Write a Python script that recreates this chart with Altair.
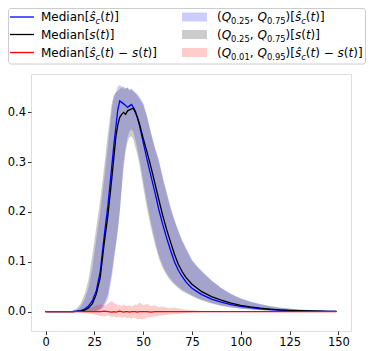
import altair as alt
import pandas as pd

# ---------------- data ----------------
t = [0, 4, 8, 12,
     14, 16, 18, 20, 22, 24, 26, 28, 30, 32, 34,
     35, 36, 37, 38, 39, 40, 41, 42, 43, 44, 45, 46, 47, 48,
     50, 52, 54, 56, 58, 60, 62, 64, 66, 68, 70, 72,
     75, 78, 80,
     85, 90, 95, 100, 105, 110, 115, 120, 125, 130, 135, 140, 145, 149]

med_s_hat = [0, 0, 0, 0,
             0.0002, 0.0007, 0.002, 0.005, 0.011, 0.022, 0.042, 0.08, 0.15, 0.215, 0.295,
             0.335, 0.37, 0.405, 0.423, 0.42, 0.417, 0.414, 0.41, 0.413, 0.416, 0.41, 0.402, 0.39, 0.376,
             0.34, 0.305, 0.272, 0.24, 0.205, 0.175, 0.148, 0.123, 0.10, 0.083, 0.07, 0.059,
             0.047, 0.039, 0.034,
             0.025, 0.019, 0.014, 0.0105, 0.0078, 0.0057, 0.0042, 0.003, 0.0021, 0.0015, 0.001, 0.0007, 0.0005, 0.0003]

med_s = [0, 0, 0, 0,
         0.0001, 0.0005, 0.001, 0.003, 0.007, 0.016, 0.035, 0.068, 0.136, 0.195, 0.27,
         0.31, 0.35, 0.375, 0.39, 0.396, 0.40, 0.396, 0.403, 0.405, 0.407, 0.408, 0.40, 0.39, 0.378,
         0.348, 0.32, 0.29, 0.258, 0.225, 0.193, 0.165, 0.14, 0.115, 0.095, 0.08, 0.068,
         0.055, 0.046, 0.04,
         0.03, 0.023, 0.017, 0.0125, 0.0095, 0.007, 0.005, 0.0035, 0.0025, 0.0017, 0.0012, 0.0008, 0.0005, 0.0004]

med_diff = [0, 0, 0, 0,
            0, 0, 0, 0, 0, 0, 0, 0, 0.001, 0, -0.001,
            0, -0.001, 0, 0.001, 0, -0.001, 0, 0, -0.001, 0, 0, 0, -0.001, 0,
            0, 0, -0.001, 0, 0, 0, 0, 0, 0, 0, 0, 0,
            0, 0, 0,
            0, 0, 0, 0, 0, 0, 0, 0, 0, 0, 0, 0, 0, 0]

q75_s_hat = [0, 0, 0, 0.0005,
             0.001, 0.003, 0.01, 0.024, 0.048, 0.088, 0.145, 0.2, 0.265, 0.335, 0.41,
             0.43, 0.44, 0.452, 0.455, 0.452, 0.447, 0.448, 0.45, 0.446, 0.448, 0.444, 0.44, 0.437, 0.432,
             0.42, 0.392, 0.36, 0.33, 0.305, 0.27, 0.24, 0.21, 0.185, 0.163, 0.143, 0.127,
             0.104, 0.09, 0.082,
             0.063, 0.048, 0.036, 0.027, 0.02, 0.015, 0.011, 0.008, 0.006, 0.0043, 0.0031, 0.0022, 0.0016, 0.0012]

q25_s_hat = [0, 0, 0, 0,
             0, 0, 0, 0, 0, 0, 0.0005, 0.003, 0.01, 0.026, 0.07,
             0.10, 0.13, 0.16, 0.2, 0.25, 0.30, 0.33, 0.35, 0.362, 0.366, 0.36, 0.345, 0.328, 0.308,
             0.262, 0.218, 0.178, 0.143, 0.113, 0.092, 0.077, 0.066, 0.057, 0.05, 0.044, 0.039,
             0.033, 0.027, 0.024,
             0.017, 0.012, 0.0085, 0.006, 0.0042, 0.003, 0.002, 0.0014, 0.001, 0.0007, 0.0005, 0.0003, 0.0002, 0.0001]

q75_s = [0, 0, 0, 0.001,
         0.002, 0.006, 0.016, 0.035, 0.065, 0.115, 0.17, 0.225, 0.29, 0.36, 0.42,
         0.435, 0.44, 0.443, 0.447, 0.45, 0.452, 0.448, 0.45, 0.444, 0.446, 0.442, 0.438, 0.434, 0.428,
         0.416, 0.39, 0.358, 0.328, 0.302, 0.268, 0.238, 0.208, 0.183, 0.161, 0.141, 0.125,
         0.102, 0.088, 0.08,
         0.062, 0.047, 0.035, 0.026, 0.019, 0.0145, 0.0105, 0.0078, 0.0058, 0.0042, 0.003, 0.0021, 0.0015, 0.0011]

q25_s = [0, 0, 0, 0,
         0, 0, 0, 0, 0, 0, 0.001, 0.005, 0.015, 0.035, 0.08,
         0.11, 0.135, 0.165, 0.2, 0.245, 0.29, 0.32, 0.34, 0.35, 0.352, 0.345, 0.33, 0.315, 0.298,
         0.25, 0.206, 0.168, 0.135, 0.107, 0.087, 0.073, 0.062, 0.054, 0.047, 0.041, 0.037,
         0.031, 0.025, 0.022,
         0.016, 0.011, 0.008, 0.0055, 0.004, 0.0028, 0.0019, 0.0013, 0.0009, 0.0006, 0.0004, 0.0003, 0.0002, 0.0001]

q95_diff = [0, 0, 0, 0,
            0.0005, 0.001, 0.002, 0.004, 0.006, 0.009, 0.012, 0.014, 0.011, 0.016, 0.021,
            0.017, 0.015, 0.012, 0.013, 0.011, 0.014, 0.012, 0.011, 0.013, 0.010, 0.012, 0.014, 0.013, 0.018,
            0.013, 0.015, 0.011, 0.012, 0.009, 0.010, 0.008, 0.007, 0.008, 0.006, 0.005, 0.004,
            0.003, 0.002, 0.0015,
            0.001, 0.0005, 0.0003, 0.0002, 0, 0, 0, 0, 0, 0, 0, 0, 0, 0]

q01_diff = [0, 0, 0, 0,
            -0.0005, -0.001, -0.002, -0.003, -0.004, -0.005, -0.007, -0.009, -0.010, -0.008, -0.011,
            -0.010, -0.012, -0.011, -0.010, -0.013, -0.012, -0.011, -0.014, -0.012, -0.015, -0.012, -0.013, -0.016, -0.014,
            -0.016, -0.012, -0.011, -0.010, -0.009, -0.008, -0.007, -0.006, -0.005, -0.005, -0.004, -0.003,
            -0.002, -0.002, -0.001,
            -0.0008, -0.0005, -0.0003, -0.0002, 0, 0, 0, 0, 0, 0, 0, 0, 0, 0]

x_ticks = [0, 25, 50, 75, 100, 125, 150]
y_ticks = [0.0, 0.1, 0.2, 0.3, 0.4]

legend_lines = [
    ("blue", [("Median[", "n"), ("ŝ", "i"), ("c", "si"), ("(", "n"), ("t", "i"), (")]", "n")]),
    ("black", [("Median[", "n"), ("s", "i"), ("(", "n"), ("t", "i"), (")]", "n")]),
    ("red", [("Median[", "n"), ("ŝ", "i"), ("c", "si"), ("(", "n"), ("t", "i"), (") − ", "n"),
             ("s", "i"), ("(", "n"), ("t", "i"), (")]", "n")]),
]
legend_bands = [
    ("blue", [("(", "n"), ("Q", "i"), ("0.25", "sn"), (", ", "n"), ("Q", "i"), ("0.75", "sn"), (")[", "n"),
              ("ŝ", "i"), ("c", "si"), ("(", "n"), ("t", "i"), (")]", "n")]),
    ("black", [("(", "n"), ("Q", "i"), ("0.25", "sn"), (", ", "n"), ("Q", "i"), ("0.75", "sn"), (")[", "n"),
               ("s", "i"), ("(", "n"), ("t", "i"), (")]", "n")]),
    ("red", [("(", "n"), ("Q", "i"), ("0.01", "sn"), (", ", "n"), ("Q", "i"), ("0.95", "sn"), (")[", "n"),
             ("ŝ", "i"), ("c", "si"), ("(", "n"), ("t", "i"), (") − ", "n"),
             ("s", "i"), ("(", "n"), ("t", "i"), (")]", "n")]),
]

# ---------------- chart ----------------
df = pd.DataFrame(dict(t=t, med_s_hat=med_s_hat, med_s=med_s, med_diff=med_diff,
                       q25_s_hat=q25_s_hat, q75_s_hat=q75_s_hat, q25_s=q25_s, q75_s=q75_s,
                       q01_diff=q01_diff, q95_diff=q95_diff))

FONT = "DejaVu Sans"
xscale = alt.Scale(domain=[-7.45, 156.45], nice=False, zero=False)
yscale = alt.Scale(domain=[-0.039, 0.477], nice=False, zero=False)
common_axis = dict(grid=False, domain=False, tickColor="black", tickSize=3.5, tickWidth=0.8,
                   labelFont=FONT, labelFontSize=11.5, labelColor="black", labelPadding=2,
                   labelFlush=False, labelOverlap=False, title=None)
X = alt.X("t:Q", scale=xscale, axis=alt.Axis(values=x_ticks, format="d", **common_axis))


def Y(field):
    return alt.Y(field, scale=yscale, axis=alt.Axis(values=y_ticks, format=".1f", **common_axis))


base = alt.Chart(df)
band_b = base.mark_area(color="blue", opacity=0.2).encode(x=X, y=Y("q25_s_hat:Q"), y2="q75_s_hat:Q")
band_g = base.mark_area(color="black", opacity=0.2).encode(x=X, y=Y("q25_s:Q"), y2="q75_s:Q")
band_r = base.mark_area(color="red", opacity=0.2).encode(x=X, y=Y("q01_diff:Q"), y2="q95_diff:Q")
line_b = base.mark_line(color="blue", strokeWidth=1.3).encode(x=X, y=Y("med_s_hat:Q"))
line_k = base.mark_line(color="black", strokeWidth=1.3).encode(x=X, y=Y("med_s:Q"))
line_r = base.mark_line(color="red", strokeWidth=1.3).encode(x=X, y=Y("med_diff:Q"))

# ---------------- legend (matplotlib-style, mathtext imitation) ----------------
EM = {"M": .863, "e": .615, "d": .635, "i": .278, "a": .613, "n": .634, "[": .390, "]": .390,
      "(": .390, ")": .390, "s": .521, "ŝ": .521, "c": .550, "t": .392, "Q": .787, ".": .318,
      ",": .318, " ": .318, "−": .838}
FS = 12.0
SUB = 0.7
one = alt.Data(values=[{"a": 1}])
legend_layers = []

legend_layers.append(
    alt.Chart(one).mark_rect(fill="white", fillOpacity=0.8, stroke="#cccccc", strokeWidth=1,
                             cornerRadius=2.5)
    .encode(x=alt.value(-22.5), x2=alt.value(334.5), y=alt.value(-65.5), y2=alt.value(-10))
)
rows_y = [-57.0, -39.5, -21.5]


def add_text(segs, x0, yc):
    x = x0
    for txt, kind in segs:
        sub = kind.startswith("s")
        italic = kind.endswith("i")
        size = FS * SUB if sub else FS
        w = sum(EM.get(ch, .636) for ch in txt) * size
        legend_layers.append(
            alt.Chart(one).mark_text(text=txt, font=FONT, fontSize=size,
                                     fontStyle="italic" if italic else "normal",
                                     align="left", baseline="alphabetic", color="black")
            .encode(x=alt.value(x), y=alt.value(yc + 4.3 + (2.8 if sub else 0)))
        )
        x += w


for (col, segs), yc in zip(legend_lines, rows_y):
    legend_layers.append(
        alt.Chart(one).mark_rule(color=col, strokeWidth=1.3)
        .encode(x=alt.value(-21), x2=alt.value(3), y=alt.value(yc))
    )
    add_text(segs, 10, yc)

for (col, segs), yc in zip(legend_bands, rows_y):
    legend_layers.append(
        alt.Chart(one).mark_rect(color=col, opacity=0.2)
        .encode(x=alt.value(151), x2=alt.value(176), y=alt.value(yc - 4.5), y2=alt.value(yc + 4.5))
    )
    add_text(segs, 186, yc)

chart = alt.layer(band_b, band_g, band_r, line_b, line_k, line_r, *legend_layers).properties(
    width=320, height=257,
    padding={"left": 23, "top": 66, "right": 15, "bottom": 18},
    autosize=alt.AutoSizeParams(type="none"),
).configure_view(stroke="#444444", strokeWidth=1).configure(background="white")

chart.save("out.html", embed_options={"renderer": "svg", "actions": False})
